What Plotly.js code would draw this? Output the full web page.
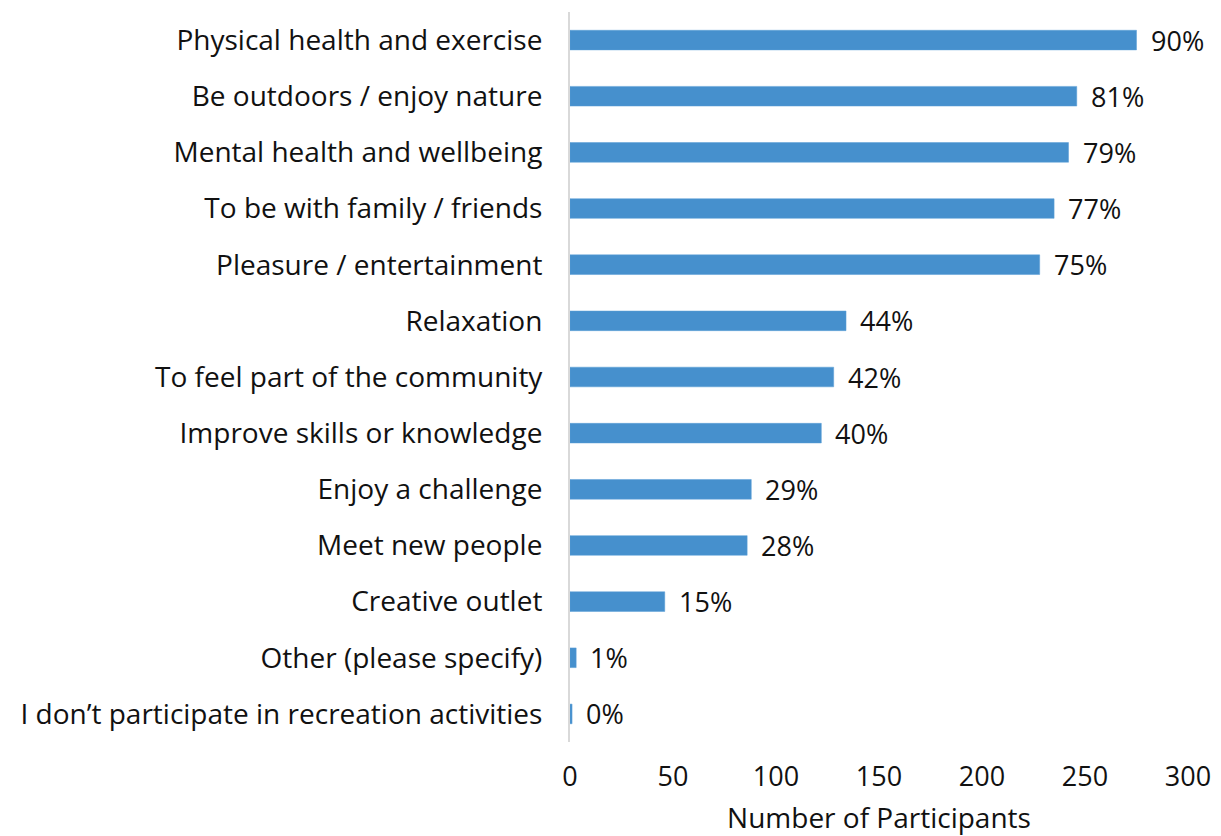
<!DOCTYPE html>
<html>
<head>
<meta charset="utf-8">
<script src="https://cdn.plot.ly/plotly-3.0.1.min.js"></script>
<style>html,body{margin:0;padding:0;background:#fff;}#chart{width:1221px;height:836px;}</style>
</head>
<body>
<div id="chart"></div>
<script>
const categories = [
  "Physical health and exercise",
  "Be outdoors / enjoy nature",
  "Mental health and wellbeing",
  "To be with family / friends",
  "Pleasure / entertainment",
  "Relaxation",
  "To feel part of the community",
  "Improve skills or knowledge",
  "Enjoy a challenge",
  "Meet new people",
  "Creative outlet",
  "Other (please specify)",
  "I don\u2019t participate in recreation activities"
];
const participants = [275, 246, 242, 235, 228, 134, 128, 122, 88, 86, 46, 3, 1];
const percentLabels = ["90%", "81%", "79%", "77%", "75%", "44%", "42%", "40%", "29%", "28%", "15%", "1%", "0%"];
const xTicks = [0, 50, 100, 150, 200, 250, 300];

const FONT = "'Open Sans', sans-serif";

const trace = {
  type: "bar",
  orientation: "h",
  x: participants,
  y: categories,
  marker: { color: "#4690CD", line: { color: "#5A9ED6", width: 0.5 } },
  hoverinfo: "skip"
};

const annotations = categories.map((c, i) => ({
  x: participants[i],
  y: c,
  xref: "x",
  yref: "y",
  text: percentLabels[i],
  showarrow: false,
  xanchor: "left",
  yanchor: "middle",
  xshift: 12,
  font: { family: FONT, size: 27, color: "#111" }
}));

const layout = {
  width: 1221,
  height: 836,
  margin: { l: 570, r: 33, t: 12, b: 94 },
  paper_bgcolor: "#fff",
  plot_bgcolor: "#fff",
  showlegend: false,
  bargap: 0.65,
  font: { family: FONT, size: 28, color: "#111" },
  xaxis: {
    range: [0, 300],
    tickvals: xTicks,
    ticktext: xTicks.map(String),
    showgrid: false,
    zeroline: false,
    showline: false,
    ticks: "",
    ticklen: 0,
    ticklabelstandoff: 16,
    tickfont: { family: FONT, size: 27, color: "#111" },
    title: { text: "Number of Participants", font: { family: FONT, size: 28, color: "#111" }, standoff: 22 },
    automargin: false,
    fixedrange: true
  },
  yaxis: {
    autorange: "reversed",
    showgrid: false,
    zeroline: false,
    showline: true,
    linecolor: "#D9D9D9",
    linewidth: 2,
    ticks: "",
    ticklabelstandoff: 20,
    tickfont: { family: FONT, size: 28, color: "#111" },
    automargin: false,
    fixedrange: true
  },
  annotations: annotations
};

Plotly.newPlot("chart", [trace], layout, { staticPlot: true, displayModeBar: false });
</script>
</body>
</html>
